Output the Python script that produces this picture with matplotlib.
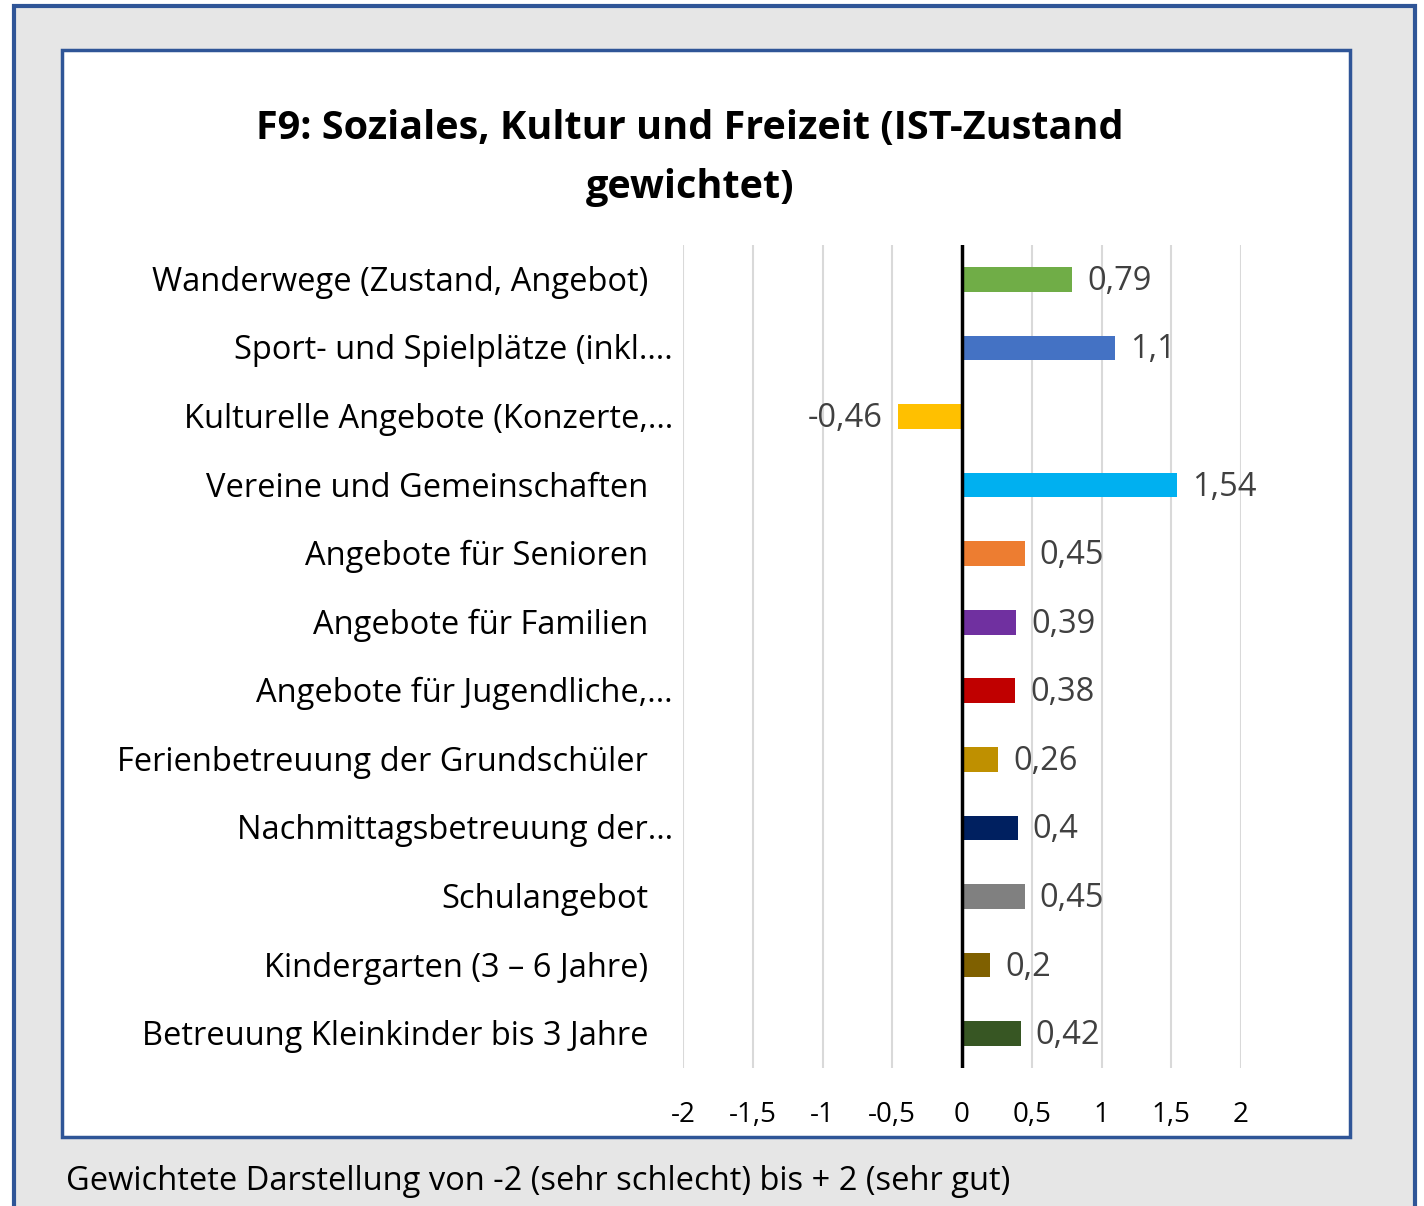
#!/usr/bin/env python3
"""F9: Soziales, Kultur und Freizeit - horizontal bar chart"""
import matplotlib
matplotlib.use("Agg")
import matplotlib.pyplot as plt
from matplotlib.patches import Rectangle

W, H = 1424, 1206

categories = [
    "Wanderwege (Zustand, Angebot)",
    "Sport- und Spielplätze (inkl….",
    "Kulturelle Angebote (Konzerte,…",
    "Vereine und Gemeinschaften",
    "Angebote für Senioren",
    "Angebote für Familien",
    "Angebote für Jugendliche,…",
    "Ferienbetreuung der Grundschüler",
    "Nachmittagsbetreuung der…",
    "Schulangebot",
    "Kindergarten (3 – 6 Jahre)",
    "Betreuung Kleinkinder bis 3 Jahre",
]
values = [0.79, 1.1, -0.46, 1.54, 0.45, 0.39, 0.38, 0.26, 0.4, 0.45, 0.2, 0.42]
colors = ["#70AD47", "#4472C4", "#FFC000", "#00B0F0", "#ED7D31", "#7030A0",
          "#C00000", "#BF9000", "#002060", "#808080", "#7F6000", "#375623"]
xticks = [-2, -1.5, -1, -0.5, 0, 0.5, 1, 1.5, 2]

title = "F9: Soziales, Kultur und Freizeit (IST-Zustand\ngewichtet)"
footer = "Gewichtete Darstellung von -2 (sehr schlecht) bis + 2 (sehr gut)"

plt.rcParams['font.family'] = ['Open Sans', 'DejaVu Sans']


def fx(x):
    return x / W


def fy(y):
    return 1 - y / H


def de(v):
    return ("%g" % v).replace(".", ",")


fig = plt.figure(figsize=(W / 100, H / 100), dpi=100)
fig.patch.set_facecolor("white")

border = "#2F5597"
# outer grey panel (open at the bottom)
fig.patches.append(Rectangle((fx(14), fy(1230)), fx(1415) - fx(14), fy(6) - fy(1230),
                             transform=fig.transFigure, facecolor="#E6E6E6",
                             edgecolor=border, linewidth=3, zorder=0))
# white chart box
fig.patches.append(Rectangle((fx(62), fy(1137)), fx(1350) - fx(62), fy(50) - fy(1137),
                             transform=fig.transFigure, facecolor="white",
                             edgecolor=border, linewidth=2.5, zorder=1))

ax = fig.add_axes([fx(683), fy(1068), fx(1241) - fx(683), fy(245) - fy(1068)])
ax.set_facecolor("none")
ax.set_zorder(2)

ypos = list(range(len(categories)))
ax.barh(ypos, values, height=0.36, color=colors, zorder=3)

for y, v in zip(ypos, values):
    if v >= 0:
        ax.annotate(de(v), (v, y), xytext=(15, -2), textcoords="offset pixels",
                    ha="left", va="center", fontsize=23.5, color="#404040")
    else:
        ax.annotate(de(v), (v, y), xytext=(-15, -2), textcoords="offset pixels",
                    ha="right", va="center", fontsize=23.5, color="#404040")

ax.set_xlim(-2, 2)
ax.set_ylim(len(categories) - 0.5, -0.5)
ax.set_xticks(xticks)
ax.set_xticklabels([de(t) for t in xticks], fontsize=20)
ax.set_yticks([])
ax.tick_params(axis="x", length=0, pad=24)
for t in xticks:
    if t != 0:
        ax.axvline(t, color="#D9D9D9", linewidth=1.5, zorder=1)
ax.axvline(0, color="black", linewidth=2.5, zorder=4)
for s in ax.spines.values():
    s.set_visible(False)

# category labels
for y, c in zip(ypos, categories):
    off = 25 if c.endswith("…") or c.endswith("….") else 0
    ax.annotate(c, (0, y), xycoords=("axes fraction", "data"),
                xytext=(-35 + off, -3), textcoords="offset pixels",
                ha="right", va="center", fontsize=23.5, color="black")

fig.text(fx(690), fy(158), title, ha="center", va="center", fontsize=28.5,
         fontweight="bold", linespacing=1.64, zorder=5)
fig.text(fx(66), fy(1182), footer, ha="left", va="center", fontsize=23.5, zorder=5)

fig.savefig("out.png", dpi=100)
